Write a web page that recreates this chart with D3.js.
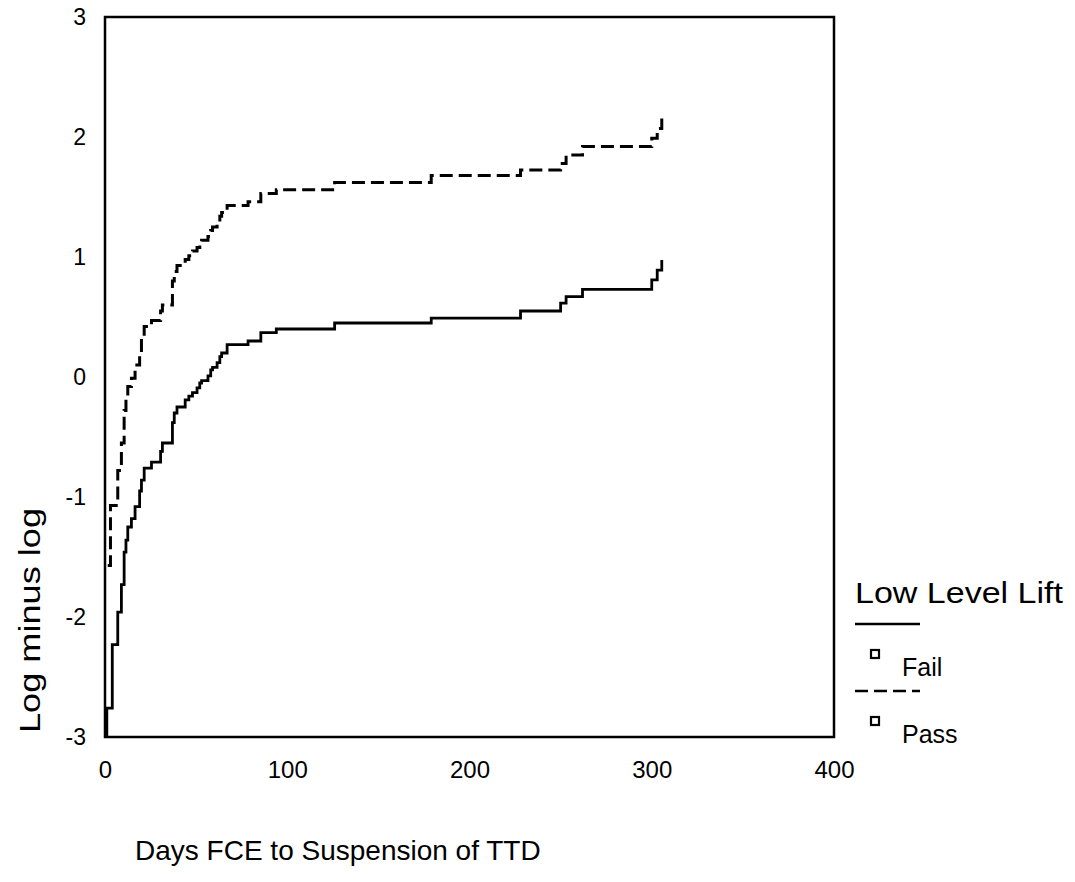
<!DOCTYPE html>
<html>
<head>
<meta charset="utf-8">
<script src="https://cdn.jsdelivr.net/npm/d3@7"></script>
<style>
  body { margin: 0; background: #fff; }
  svg { display: block; font-family: "Liberation Sans", Arial, sans-serif; }
</style>
</head>
<body>
<svg></svg>
<script>
var width = 1075;
var height = 882;

// step times (days) and log-minus-log values
var failDays = [1, 1, 4, 7, 9, 10.5, 11.5, 12.5, 14.5, 16.5, 19, 20, 21.5, 25.5, 30.5, 31.5,
  37, 38, 39.5, 44, 46, 48, 50.5, 52, 53, 56.5, 58, 59, 61.5, 63, 64, 67,
  78.5, 85.5, 94, 126, 179, 228, 250, 253, 262, 300, 303, 305.5];
var failLml = [-3.0, -2.76, -2.23, -1.96, -1.73, -1.46, -1.36, -1.25, -1.18, -1.08, -0.95, -0.86, -0.76, -0.71, -0.62, -0.55,
  -0.38, -0.30, -0.25, -0.19, -0.16, -0.13, -0.09, -0.05, -0.03, 0.01, 0.06, 0.08, 0.12, 0.17, 0.20, 0.27,
  0.30, 0.37, 0.40, 0.45, 0.49, 0.55, 0.615, 0.67, 0.73, 0.81, 0.89, 0.975];

var passDays = [1.5, 3, 7, 9, 10.5, 11.5, 12.5, 14.5, 16.5, 19, 20, 21.5, 25.5, 30.5, 31.5,
  37, 38, 39.5, 44, 46, 48, 50.5, 52, 53, 56.5, 58, 59, 61.5, 63, 64, 67,
  78.5, 85.5, 94, 126, 179, 228, 250, 253, 262, 300, 303, 305.5];
var passLml = [-1.57, -1.07, -0.78, -0.55, -0.28, -0.18, -0.08, -0.01, 0.10, 0.22, 0.33, 0.42, 0.47, 0.55, 0.60,
  0.80, 0.88, 0.93, 0.98, 1.01, 1.05, 1.08, 1.12, 1.14, 1.17, 1.22, 1.25, 1.29, 1.34, 1.37, 1.43,
  1.46, 1.53, 1.56, 1.62, 1.68, 1.725, 1.78, 1.85, 1.92, 1.99, 2.07, 2.17];

var xTicks = [0, 100, 200, 300, 400];
var yTicks = [-3, -2, -1, 0, 1, 2, 3];
var groups = ['Fail', 'Pass'];

var svg = d3.select('svg')
  .attr('width', width)
  .attr('height', height);

var x = d3.scaleLinear().domain([0, 400]).range([105, 834]);
var y = d3.scaleLinear().domain([-3, 3]).range([737, 17]);

// frame
svg.append('rect')
  .attr('x', x(0)).attr('y', y(3))
  .attr('width', x(400) - x(0)).attr('height', y(-3) - y(3))
  .attr('fill', 'none').attr('stroke', '#000').attr('stroke-width', 2.5);

// tick labels via axes, no tick marks (plain hyphen for minus)
var xAxis = svg.append('g')
  .attr('transform', 'translate(0,' + (y(-3) + 21) + ')')
  .call(d3.axisBottom(x).tickValues(xTicks).tickSize(0).tickFormat(d => String(d)));
xAxis.select('.domain').remove();
xAxis.selectAll('text').attr('font-size', 24).attr('font-family', 'Liberation Sans, Arial, sans-serif').attr('fill', '#000');

var yAxis = svg.append('g')
  .attr('transform', 'translate(' + (x(0) - 16) + ',0)')
  .call(d3.axisLeft(y).tickValues(yTicks).tickSize(0).tickFormat(d => String(d)));
yAxis.select('.domain').remove();
yAxis.selectAll('text').attr('font-size', 23).attr('font-family', 'Liberation Sans, Arial, sans-serif').attr('fill', '#000');

// curves
var line = d3.line()
  .x(d => x(d[0]))
  .y(d => y(d[1]))
  .curve(d3.curveStepAfter);

var failData = d3.zip(failDays, failLml);
var passData = d3.zip(passDays, passLml);

svg.append('path')
  .datum(failData)
  .attr('d', line)
  .attr('fill', 'none')
  .attr('stroke', '#000')
  .attr('stroke-width', 2.8);

svg.append('path')
  .datum(passData)
  .attr('d', line)
  .attr('fill', 'none')
  .attr('stroke', '#000')
  .attr('stroke-width', 3)
  .attr('stroke-dasharray', '13,6');

// axis titles
svg.append('text')
  .attr('x', 135).attr('y', 860)
  .attr('font-size', 28)
  .text('Days FCE to Suspension of TTD');

svg.append('text')
  .attr('transform', 'translate(40,733) rotate(-90)')
  .attr('font-size', 30)
  .attr('textLength', 225)
  .attr('lengthAdjust', 'spacingAndGlyphs')
  .text('Log minus log');

// legend
var legend = svg.append('g');
legend.append('text')
  .attr('x', 855).attr('y', 603)
  .attr('font-size', 30)
  .attr('textLength', 208)
  .attr('lengthAdjust', 'spacingAndGlyphs')
  .text('Low Level Lift');

groups.forEach(function(g, i) {
  var top = 624 + i * 67;
  legend.append('line')
    .attr('x1', 855).attr('x2', 920)
    .attr('y1', top).attr('y2', top)
    .attr('stroke', '#000').attr('stroke-width', 2.5)
    .attr('stroke-dasharray', i === 1 ? '13,6' : null);
  legend.append('rect')
    .attr('x', 871).attr('y', top + 26)
    .attr('width', 8).attr('height', 8)
    .attr('fill', '#fff').attr('stroke', '#000').attr('stroke-width', 2.2);
  legend.append('text')
    .attr('x', 902).attr('y', top + 52)
    .attr('font-size', 25)
    .text(g);
});
</script>
</body>
</html>
